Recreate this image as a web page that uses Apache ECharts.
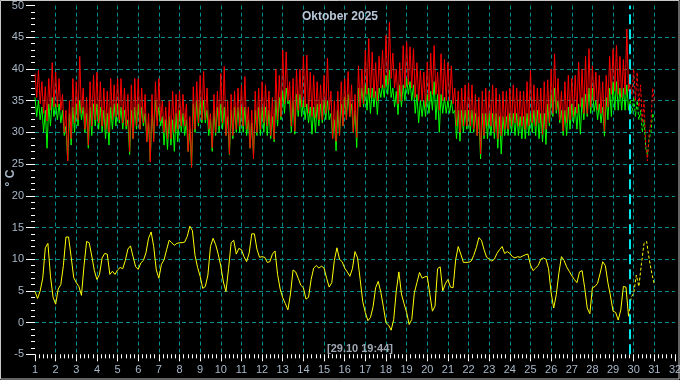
<!DOCTYPE html>
<html><head><meta charset="utf-8">
<script src="https://cdn.jsdelivr.net/npm/echarts@6/dist/echarts.min.js"></script>
<style>html,body{margin:0;padding:0;background:#000}#c{width:680px;height:380px}</style>
</head><body><div id="c"></div>
<script>
const titleText = 'Oktober 2025';
const nowLabel = '[29.10 19:44]';
const yAxisName = '° C';
const nowDay = 29.822;
const startDay = 1;
const stepRG = 1 / 12;   // 2-hour steps
const stepY = 1 / 8;     // 3-hour steps
const forecastStartRG = 29 + 10 / 12;
const forecastStartY = 29.75;

const redValues = [
39.3,35.5,39.8,34.5,38.0,33.0,37.2,31.8,38.5,33.5,41.0,34.0,
39.5,34.0,38.5,33.5,36.0,30.0,33.5,25.5,35.0,29.0,38.5,31.5,
38.0,32.0,42.0,33.0,37.0,30.5,35.5,28.0,38.0,31.0,39.0,32.0,
39.5,31.5,38.0,31.0,37.0,30.5,36.5,30.0,38.5,32.0,37.5,32.5,
38.5,32.0,38.5,31.5,37.0,31.0,36.0,27.0,37.5,29.0,38.5,31.0,
38.5,30.5,37.0,31.5,36.0,28.5,33.0,25.3,36.0,28.5,38.0,31.0,
38.5,31.8,35.0,30.0,34.0,29.0,35.0,29.0,36.5,30.0,36.0,30.5,
36.5,31.0,36.0,31.0,34.5,27.0,32.5,24.5,37.2,30.5,38.0,31.5,
39.0,32.0,39.6,32.0,37.0,30.5,33.0,27.6,36.0,30.0,36.5,31.0,
39.3,31.5,40.4,29.5,35.0,26.6,36.0,29.5,36.5,30.5,37.0,31.0,
37.5,31.0,38.8,30.5,34.0,27.5,33.5,25.8,36.5,30.0,37.0,30.5,
38.0,31.5,37.5,31.0,36.5,29.5,35.5,28.9,40.0,32.0,39.0,32.5,
43.0,34.5,42.7,35.0,38.0,31.0,38.5,30.2,40.0,33.5,40.0,34.0,
42.0,34.0,42.2,33.0,39.5,32.5,39.0,32.3,38.0,32.0,37.5,32.0,
39.0,33.0,41.7,33.5,36.5,29.0,35.0,28.6,36.5,29.5,38.0,31.0,
38.5,32.0,39.6,32.5,37.5,30.0,36.0,29.2,40.5,34.0,40.0,34.5,
43.0,36.0,44.8,35.5,42.7,35.5,41.0,35.0,42.0,37.0,43.0,37.0,
45.3,37.5,47.4,38.5,42.5,37.0,40.0,34.5,41.0,35.0,43.7,37.0,
44.3,37.5,43.5,37.0,43.2,35.5,41.0,35.0,39.8,34.9,39.5,34.0,
41.1,35.0,42.5,36.0,43.7,36.0,39.5,33.5,42.4,35.0,41.5,35.0,
41.0,35.0,40.5,34.5,37.0,31.0,36.5,30.0,37.0,31.0,37.5,31.0,
37.8,31.0,37.5,30.5,36.0,29.5,35.5,26.6,36.5,29.5,37.0,31.0,
36.5,31.0,37.5,30.0,37.0,29.0,36.0,29.5,36.5,30.5,36.5,30.5,
37.0,31.0,37.5,31.5,37.0,31.0,36.5,31.0,36.5,30.5,38.0,31.0,
39.8,31.5,37.5,31.0,37.0,31.5,37.0,29.7,38.0,30.5,38.3,31.5,
40.0,33.0,42.4,33.5,38.5,32.0,36.5,30.2,38.0,31.5,39.0,32.0,
38.5,32.5,39.0,33.0,41.1,34.0,40.0,33.0,42.0,33.0,43.2,34.0,
40.5,35.0,39.5,33.5,39.0,33.0,38.0,30.2,39.0,34.0,42.0,36.0,
43.2,36.5,43.7,36.0,42.0,35.5,41.5,36.0,46.3,36.5,38.0
];
const redForecast = [38.0,36.0,40.0,35.0,39.5,34.0,37.5,31.5,35.0,28.0,25.5,30.0,31.5,37.0,35.0];

const greenValues = [
35.5,32.5,35.0,32.0,34.0,30.0,33.5,27.5,34.5,31.0,35.5,32.5,
34.5,32.0,34.5,31.5,33.5,29.5,31.0,25.5,33.0,28.0,34.0,30.0,
34.5,31.0,35.0,32.0,34.0,30.0,33.0,27.5,34.0,29.5,34.5,31.0,
34.5,30.5,34.0,30.0,33.5,29.0,33.0,28.0,34.0,30.5,34.5,31.0,
34.5,31.5,34.0,30.5,33.5,30.5,32.0,26.5,33.5,29.0,34.0,30.5,
34.5,30.5,34.0,31.0,33.0,28.5,31.5,25.5,33.5,29.0,35.0,32.0,
34.0,31.0,32.5,28.0,32.0,27.3,32.5,28.0,32.0,27.0,33.0,28.5,
33.5,30.0,33.0,29.5,32.0,27.0,30.5,24.5,34.5,30.0,35.0,31.0,
35.0,31.5,35.0,31.5,33.5,29.5,32.0,27.0,33.5,29.5,34.0,30.0,
34.5,30.5,34.0,29.5,32.5,26.5,33.5,29.0,34.0,30.0,34.0,30.0,
34.0,30.0,34.0,29.5,32.0,27.5,31.5,26.5,33.5,29.5,34.0,29.5,
34.0,30.0,34.0,29.5,33.5,29.0,32.5,28.5,35.0,31.0,35.5,32.0,
36.5,33.0,37.0,34.5,35.0,30.0,35.0,29.7,36.0,32.5,36.0,32.5,
35.0,32.0,34.5,31.5,34.0,29.7,34.0,30.0,34.5,31.0,34.5,31.5,
35.0,32.0,35.0,32.0,33.0,29.0,32.0,27.1,33.5,29.5,34.5,31.0,
35.5,32.0,36.0,32.5,34.5,30.0,33.5,27.6,37.0,34.0,37.0,34.0,
37.5,33.5,37.0,33.0,37.0,34.0,36.5,32.8,37.0,35.5,37.5,35.5,
39.0,36.0,39.8,35.5,37.0,34.0,36.5,32.8,37.5,34.0,37.5,35.0,
38.5,36.0,38.0,35.0,37.5,33.0,36.0,31.5,35.0,32.5,35.0,32.5,
36.0,33.0,36.5,33.5,38.0,32.0,36.0,30.0,36.0,33.0,35.5,33.0,
35.0,33.0,35.0,33.0,33.5,29.0,33.5,28.6,33.5,30.0,33.5,30.5,
33.5,30.0,33.5,30.0,33.0,29.5,32.5,25.8,33.0,29.0,33.0,29.0,
33.0,29.5,33.0,29.0,33.0,27.5,32.5,26.6,32.5,29.5,32.5,29.5,
33.0,30.0,33.0,29.5,33.0,29.5,32.5,29.0,32.5,29.0,33.0,29.5,
33.0,30.0,33.5,29.5,33.5,29.0,33.0,28.5,33.0,28.1,34.5,31.0,
36.0,32.5,37.0,33.0,35.0,31.5,33.5,29.5,33.5,29.5,34.0,30.5,
34.5,31.5,34.0,30.5,34.5,29.7,35.5,32.0,36.0,32.5,37.0,33.0,
37.0,33.3,35.0,32.0,34.5,31.5,34.0,29.4,35.5,32.0,37.0,32.5,
38.0,33.5,38.0,33.5,37.0,33.5,37.0,33.5,37.5,33.5,35.0
];
const greenForecast = [35.0,33.0,35.5,32.5,35.0,32.0,33.5,30.0,32.0,27.5,26.5,29.0,30.0,33.0,32.0];

const yellowValues = [
4.9,3.8,5.0,7.0,11.8,12.5,7.3,4.0,
2.9,5.3,6.0,9.0,13.5,13.5,10.4,7.1,
6.3,5.7,4.3,9.0,12.8,12.6,10.5,8.2,
6.8,7.6,10.2,10.9,10.8,7.6,8.1,7.6,
8.3,8.7,8.5,9.8,11.6,12.1,10.4,8.8,
8.4,9.4,9.8,11.0,13.3,14.3,12.0,8.3,
7.0,9.2,9.9,11.5,13.0,12.6,12.2,12.5,
12.6,12.6,12.7,13.6,15.2,14.5,10.6,8.7,
7.3,5.4,5.7,7.5,12.0,13.3,12.3,10.8,
8.9,6.4,4.9,8.5,12.6,13.0,10.8,11.7,
11.5,10.4,9.6,11.0,14.0,14.0,11.6,10.3,
10.4,10.3,9.5,9.6,10.8,11.3,7.6,5.3,
3.9,3.0,2.0,4.5,8.3,8.0,7.0,5.9,
5.5,3.7,4.0,6.8,8.6,9.0,8.6,8.9,
8.6,7.0,5.6,6.3,9.8,11.8,10.0,9.6,
8.6,8.0,7.3,8.5,11.2,10.2,6.8,3.3,
1.6,0.3,0.8,2.5,5.5,6.5,4.8,2.5,
0.0,-0.4,-1.2,0.5,5.0,8.0,4.5,3.0,
1.6,-0.3,0.5,4.7,6.3,7.9,7.0,7.2,
7.3,4.5,1.8,2.6,8.5,8.8,5.0,6.1,
6.8,5.6,5.5,9.9,12.0,10.8,9.5,9.5,
9.5,9.7,10.6,11.8,13.4,13.0,11.5,10.3,
10.0,9.7,10.0,10.9,11.5,12.0,10.9,11.2,
10.9,10.4,10.2,10.4,10.3,10.5,10.7,10.8,
9.1,8.2,8.6,9.0,10.0,10.2,10.0,8.5,
4.7,2.3,4.4,7.8,10.4,9.8,8.8,8.1,
7.4,6.8,6.3,8.0,8.2,5.5,2.3,1.4,
5.5,5.7,6.2,7.8,9.6,9.0,6.3,4.2,
1.8,1.6,0.4,2.0,5.7,5.6,1.0
];
const yellowForecast = [1.0,4.0,4.6,7.5,5.7,9.3,12.5,12.8,10.0,7.8,6.0];

function pts(vals, t0, step) { return vals.map((v, i) => [t0 + i * step, v]); }

const labelColor = '#a8b8c8';
const gridColor = '#008e8e';
const font = 'Liberation Sans, Arial, sans-serif';

function lineSeries(name, data, color, dashed, z) {
  return {
    name, type: 'line', data, showSymbol: false, symbol: 'none', silent: true,
    lineStyle: { color, width: 1, type: dashed ? [3, 2] : 'solid' },
    z: z || 2
  };
}

const chart = echarts.init(document.getElementById('c'), null, { renderer: 'canvas' });
const yellowMain = lineSeries('yellow', pts(yellowValues, startDay, stepY), '#ffff00', false, 4);
yellowMain.markLine = {
  silent: true, symbol: 'none', animation: false,
  label: { show: false },
  lineStyle: { color: '#00e8f0', width: 2, type: [10, 5] },
  data: [{ xAxis: nowDay }]
};

chart.setOption({
  animation: false,
  backgroundColor: '#000000',
  grid: { left: 35, right: 5, top: 5.6, bottom: 25.7, containLabel: false, outerBoundsMode: 'none' },
  xAxis: {
    type: 'value', min: 1, max: 32, interval: 1,
    axisLine: { show: false, onZero: false },
    axisTick: { show: true, length: 7, lineStyle: { color: '#ffffff', width: 1 } },
    minorTick: { show: true, splitNumber: 5, length: 4, lineStyle: { color: '#ffffff', width: 1 } },
    axisLabel: { color: labelColor, fontSize: 11, fontFamily: font, margin: 10, formatter: v => String(Math.round(v)) },
    splitLine: { show: true, showMinLine: false, showMaxLine: false, lineStyle: { color: gridColor, type: [4, 3], width: 1 } }
  },
  yAxis: {
    type: 'value', min: -5, max: 50, interval: 5,
    axisLine: { show: false, onZero: false },
    axisTick: { show: true, length: 9, lineStyle: { color: '#ffffff', width: 1 } },
    minorTick: { show: true, splitNumber: 5, length: 4, lineStyle: { color: '#ffffff', width: 1 } },
    axisLabel: { color: labelColor, fontSize: 11, fontFamily: font, margin: 11 },
    splitLine: { show: true, showMinLine: false, showMaxLine: false, lineStyle: { color: gridColor, type: [4, 3], width: 1 } }
  },
  series: [
    lineSeries('green', pts(greenValues, startDay, stepRG), '#00ff00', false, 2),
    lineSeries('greenF', pts(greenForecast, forecastStartRG, stepRG), '#00ff00', true, 2),
    lineSeries('red', pts(redValues, startDay, stepRG), '#ff0000', false, 3),
    lineSeries('redF', pts(redForecast, forecastStartRG, stepRG), '#ff0000', true, 3),
    yellowMain,
    lineSeries('yellowF', pts(yellowForecast, forecastStartY, stepY), '#ffff00', true, 4)
  ],
  graphic: [
    { type: 'rect', silent: true, z: 100, shape: { x: 0.5, y: 0.5, width: 678.5, height: 378.5 },
      style: { fill: 'none', stroke: '#c8c8c8', lineWidth: 1 } },
    { type: 'text', silent: true, z: 100, x: 340, y: 17,
      style: { text: titleText, fill: '#b8c8d8', font: 'bold 12px ' + font, align: 'center', verticalAlign: 'middle' } },
    { type: 'text', silent: true, z: 100, x: 360, y: 349,
      style: { text: nowLabel, fill: '#a0a8b4', font: 'bold 11px ' + font, align: 'center', verticalAlign: 'middle' } },
    { type: 'text', silent: true, z: 100, x: 11, y: 178, rotation: Math.PI / 2,
      style: { text: yAxisName, fill: labelColor, font: 'bold 12px ' + font, align: 'center', verticalAlign: 'middle' } }
  ]
});
</script>
</body></html>
